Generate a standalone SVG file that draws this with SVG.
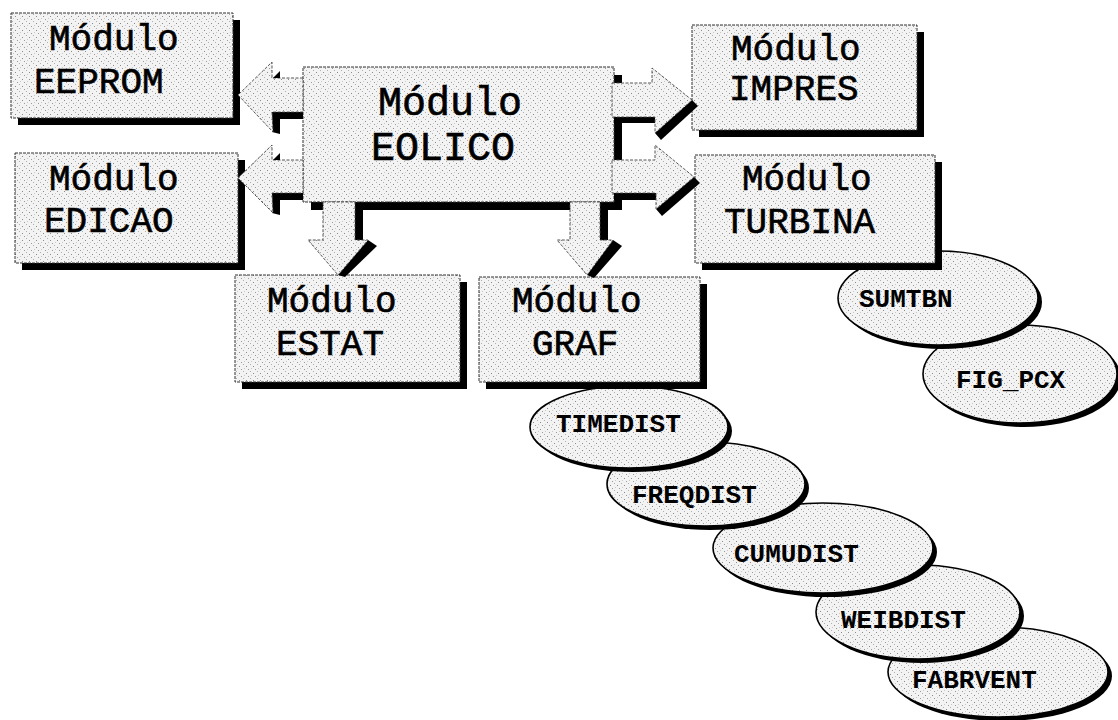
<svg xmlns="http://www.w3.org/2000/svg" width="1118" height="720" viewBox="0 0 1118 720">
<defs>
<pattern id="dots" width="7" height="7" patternUnits="userSpaceOnUse">
<rect width="7" height="7" fill="#f3f3f3"/>
<rect x="1" y="2" width="1" height="1" fill="#8a8a8a"/>
<rect x="5" y="0" width="1" height="1" fill="#b0b0b0"/>
<rect x="3" y="5" width="1" height="1" fill="#9a9a9a"/>
<rect x="6" y="4" width="1" height="1" fill="#c8c8c8"/>
</pattern>
<style>
.box{fill:url(#dots);stroke:#333;stroke-width:1;stroke-dasharray:3 1}
.sh{fill:#000}
.ell{fill:url(#dots);stroke:#000;stroke-width:1.6}
.arr{fill:url(#dots);stroke:#444;stroke-width:0.9;stroke-dasharray:3 1.5}
.bt{font-family:"Liberation Mono","Courier New",monospace;font-size:36px;fill:#000;stroke:#000;stroke-width:0.6}
.big{font-size:40px}
.et{font-family:"Liberation Mono","Courier New",monospace;font-size:26px;font-weight:bold;fill:#000}
</style>
</defs>
<rect width="1118" height="720" fill="#fff"/>

<g id="node-fabrvent">
<ellipse class="sh" cx="1002" cy="676" rx="110" ry="45"/>
<ellipse class="ell" cx="998" cy="672" rx="110" ry="45"/>
<text class="et" x="912" y="688">FABRVENT</text>
</g>
<g id="node-weibdist">
<ellipse class="sh" cx="922" cy="616" rx="102" ry="47"/>
<ellipse class="ell" cx="918" cy="612" rx="102" ry="47"/>
<text class="et" x="841" y="628">WEIBDIST</text>
</g>
<g id="node-cumudist">
<ellipse class="sh" cx="827" cy="552" rx="110" ry="45"/>
<ellipse class="ell" cx="823" cy="548" rx="110" ry="45"/>
<text class="et" x="734" y="562">CUMUDIST</text>
</g>
<g id="node-freqdist">
<ellipse class="sh" cx="710" cy="488" rx="99" ry="42"/>
<ellipse class="ell" cx="706" cy="484" rx="99" ry="42"/>
<text class="et" x="632" y="503">FREQDIST</text>
</g>
<g id="node-timedist">
<ellipse class="sh" cx="633" cy="431" rx="99" ry="41"/>
<ellipse class="ell" cx="629" cy="427" rx="99" ry="41"/>
<text class="et" x="556" y="432">TIMEDIST</text>
</g>
<g id="node-fig_pcx">
<ellipse class="sh" cx="1024" cy="378" rx="97" ry="49"/>
<ellipse class="ell" cx="1020" cy="374" rx="97" ry="49"/>
<text class="et" x="956" y="388">FIG_PCX</text>
</g>
<g id="node-sumtbn">
<ellipse class="sh" cx="942" cy="302" rx="100" ry="47"/>
<ellipse class="ell" cx="938" cy="298" rx="100" ry="47"/>
<text class="et" x="859" y="307">SUMTBN</text>
</g>

<g id="node-eeprom">
<rect class="sh" x="18" y="20" width="222" height="105"/>
<rect class="box" x="11" y="13" width="222" height="105"/>
<text class="bt" x="49" y="50">Módulo</text>
<text class="bt" x="34" y="93">EEPROM</text>
</g>
<g id="node-edicao">
<rect class="sh" x="22" y="160" width="223" height="110"/>
<rect class="box" x="15" y="153" width="223" height="110"/>
<text class="bt" x="49" y="190">Módulo</text>
<text class="bt" x="44" y="232">EDICAO</text>
</g>
<g id="node-eolico">
<rect class="sh" x="311" y="75" width="311" height="135"/>
<rect class="box" x="303" y="67" width="311" height="135"/>
<text class="bt big" x="378" y="115">Módulo</text>
<text class="bt big" x="371" y="160">EOLICO</text>
</g>
<g id="node-impres">
<rect class="sh" x="699" y="32" width="225" height="105"/>
<rect class="box" x="692" y="25" width="225" height="105"/>
<text class="bt" x="731" y="60">Módulo</text>
<text class="bt" x="729" y="100">IMPRES</text>
</g>
<g id="node-turbina">
<rect class="sh" x="702" y="162" width="240" height="108"/>
<rect class="box" x="695" y="155" width="240" height="108"/>
<text class="bt" x="742" y="190">Módulo</text>
<text class="bt" x="724" y="233">TURBINA</text>
</g>
<g id="node-estat">
<rect class="sh" x="242" y="282" width="225" height="107"/>
<rect class="box" x="235" y="275" width="225" height="107"/>
<text class="bt" x="267" y="312">Módulo</text>
<text class="bt" x="276" y="355">ESTAT</text>
</g>
<g id="node-graf">
<rect class="sh" x="486" y="284" width="221" height="105"/>
<rect class="box" x="479" y="277" width="221" height="105"/>
<text class="bt" x="512" y="312">Módulo</text>
<text class="bt" x="532" y="355">GRAF</text>
</g>

<g id="connectors">
<polygon class="sh" points="272,112 303,112 303,119 280,119 280,134 272,132"/>
<polygon class="arr" points="303,78 272,78 272,62 238,95 273,132 272,112 303,112"/>
<polygon class="sh" points="273,78 280,78 280,71"/>
<polygon class="sh" points="272,193 303,193 303,200 280,200 280,215 272,213"/>
<polygon class="arr" points="303,160 272,160 272,145 238,178 273,213 272,193 303,193"/>
<polygon class="sh" points="273,160 280,160 280,153"/>
<polygon class="sh" points="614,117 655,117 655,123 614,123"/>
<polygon class="sh" points="692,100 698,106 661,140 655,133"/>
<polygon class="arr" points="612,83 652,83 652,68 692,100 655,133 655,117 612,117"/>
<polygon class="sh" points="614,193 656,193 656,200 614,200"/>
<polygon class="sh" points="694,177 700,183 662,216 656,209"/>
<polygon class="arr" points="612,160 655,160 655,145 694,177 656,209 656,193 612,193"/>
<polygon class="sh" points="355,204 363,204 363,240 355,240"/>
<polygon class="sh" points="368,240 377,246 345,277 338,275"/>
<polygon class="arr" points="323,202 355,202 355,240 368,240 338,275 308,240 323,240"/>
<polygon class="sh" points="600,204 608,204 608,240 600,240"/>
<polygon class="sh" points="613,240 622,246 594,278 587,275"/>
<polygon class="arr" points="570,202 600,202 600,240 613,240 587,275 557,240 570,240"/>
</g>
</svg>
